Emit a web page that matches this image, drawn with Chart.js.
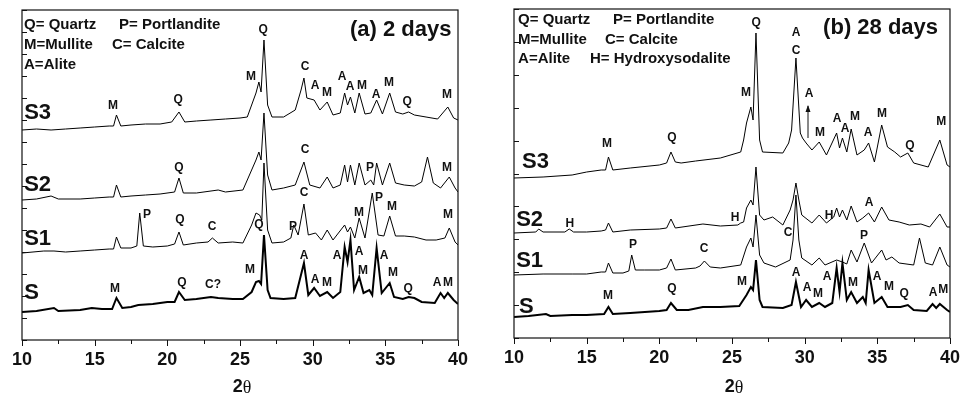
<!DOCTYPE html>
<html>
<head>
<meta charset="utf-8">
<script src="https://cdn.jsdelivr.net/npm/chart.js@4.4.1/dist/chart.umd.min.js"></script>
<style>
  body { margin: 0; background: #fff; }
  #wrap { position: relative; width: 969px; height: 405px; }
  canvas { position: absolute; top: 0; }
  #cA { left: 0; }
  #cB { left: 480px; }
</style>
</head>
<body>
<div id="wrap">
  <canvas id="cA" width="480" height="405"></canvas>
  <canvas id="cB" width="489" height="405"></canvas>
</div>
<script>
// ---- (a) 2 days : 2theta + stacked intensity (a.u.) ----
const a_S_2t  = [10,11,12.2,12.5,14,14.8,15.5,16.2,16.5,16.9,17.5,18,19,20,20.5,20.8,21.2,22,23,23.5,24.5,25.2,25.8,26.1,26.3,26.45,26.65,26.9,27.1,28,28.8,29.4,29.7,30.1,30.5,31,31.4,31.9,32.2,32.4,32.6,32.85,33.2,33.5,33.9,34.1,34.4,34.75,35.3,35.6,36.2,36.6,37,37.5,38.4,38.8,39.05,39.3,39.7,40];
const a_S_i   = [28,29,32,29,30,32,31,31,42,32,33,35,36,38,38,48,40,41,43,42,41,41,48,58,59,56,105,50,42,41,42,77,45,52,44,48,42,48,93,78,100,50,63,47,50,45,92,47,57,43,41,43,42,38,37,47,42,47,40,36];

const a_S1_2t = [10,11.5,12.2,13,14,15,16,16.3,16.5,16.8,17.5,17.9,18.1,18.35,19,20,20.5,20.8,21.1,22,22.8,23.1,23.5,24.5,25.2,25.8,26.1,26.35,26.5,26.65,26.9,27.2,28,28.5,28.7,29.0,29.4,29.7,30.2,30.6,31,31.4,32.2,32.4,32.6,32.9,33.2,33.6,34.1,34.5,34.9,35.3,35.7,36.3,37,37.8,38.5,39.1,39.4,39.8,40];
const a_S1_i  = [87,89,89,88,89,90,91,91,103,92,92,94,127,94,93,94,96,108,95,97,98,102,97,98,97,115,127,125,120,177,110,97,98,102,115,105,136,105,107,100,110,100,115,108,113,102,122,102,147,105,104,124,104,104,103,100,100,102,112,98,95];

const a_S2_2t = [10,11,12,12.5,14,15,16,16.3,16.5,16.8,17.5,18.5,19.5,20.5,20.8,21.1,22,23.5,24,25.2,25.8,26.1,26.3,26.45,26.65,26.9,27.2,28,28.8,29.4,29.8,30.5,31,31.4,31.9,32.2,32.4,32.6,32.9,33.2,33.6,34.0,34.2,34.4,34.8,35.3,35.7,36.3,37,37.5,37.9,38.3,38.8,39.4,39.8,40];
const a_S2_i  = [140,141,144,141,141,142,143,143,155,143,144,145,146,148,162,147,147,150,148,150,170,180,188,180,227,165,150,152,155,178,155,152,163,152,155,175,158,175,155,177,155,160,155,177,155,177,157,155,154,158,183,157,152,163,152,148];

const a_S3_2t = [10,11,12,13,14,15,16,16.3,16.5,16.8,17.5,18.5,19.5,20.3,20.8,21.2,22,23,24,25,25.5,25.8,26.1,26.3,26.45,26.65,26.9,27.2,28,28.8,29.2,29.4,29.6,30.1,30.5,31,31.4,31.9,32.2,32.4,32.6,32.9,33.2,33.6,34,34.4,34.8,35.3,35.7,36.2,36.6,37,37.8,38.6,39.3,39.7,40];
const a_S3_i  = [210,211,210,211,212,213,214,214,225,214,215,216,216,218,228,218,219,220,221,222,223,235,247,258,248,300,235,223,223,230,250,262,242,240,230,238,225,227,247,235,243,227,247,226,227,240,226,247,228,226,228,225,223,221,233,222,220];

// ---- (b) 28 days ----
const b_S_2t  = [10,11,12.2,12.5,14,15,16.2,16.5,16.8,18,20,20.5,20.8,21.2,22,23,24.2,25.5,26.0,26.3,26.45,26.65,26.9,27.1,28.5,29.1,29.4,29.75,30.1,30.5,31,31.4,31.9,32.2,32.4,32.6,32.9,33.2,33.6,34.0,34.2,34.4,34.8,35.3,35.7,36.6,37.1,37.5,38.4,38.8,39.05,39.3,39.8,40];
const b_S_i   = [21,22,24,22,23,23,24,31,24,25,27,28,35,28,28,31,31,32,43,51,48,78,38,31,30,33,56,31,38,31,35,31,35,70,46,75,38,46,35,41,35,68,35,41,31,31,33,28,27,34,30,34,28,26];

const b_S1_2t = [10,12,14,15,16,16.3,16.5,16.8,17.5,17.9,18.1,18.35,19,20,20.5,20.8,21.1,22.5,22.8,23.1,23.5,24.2,25.6,26.0,26.3,26.45,26.65,26.9,27.2,28,29,29.2,29.4,29.6,29.8,30.5,31,31.4,32.2,32.6,32.9,33.2,33.6,34.1,34.6,35.3,35.6,36,36.5,37.5,37.9,38.3,38.8,39.3,39.8,40];
const b_S1_i  = [63,64,64,64,66,66,75,65,65,67,83,68,68,68,70,79,68,70,72,77,71,70,73,91,100,91,123,83,75,71,78,98,143,98,80,73,80,73,78,76,74,88,76,95,75,88,78,81,75,73,100,75,73,91,73,71];

const b_S2_2t = [10,11.5,11.7,12,13.5,13.8,14.1,15,16,16.3,16.5,16.8,18,20,20.5,20.8,21.1,23,24.2,25.4,25.6,25.8,26.0,26.3,26.45,26.65,26.9,27.2,27.8,28.5,29.0,29.2,29.4,29.6,29.8,30.5,31,31.5,32.0,32.2,32.4,32.6,32.9,33.2,33.6,34.0,34.4,34.8,35.3,35.8,36.5,37.2,38,38.6,39.3,39.8,40];
const b_S2_i  = [105,106,109,106,106,109,106,106,107,108,115,106,108,109,110,119,110,114,112,113,115,116,130,138,133,171,123,118,121,113,128,138,155,138,123,115,123,115,121,130,121,128,118,132,116,120,125,116,131,118,116,113,114,111,124,111,111];

const b_S3_2t = [10,12,14,15,16,16.3,16.5,16.8,18,20,20.5,20.8,21.1,21.5,22.5,24.2,25.6,25.8,26.0,26.3,26.45,26.65,26.9,27.1,28.5,28.9,29.1,29.4,29.7,29.85,30.1,30.5,31,31.5,32.2,32.4,32.6,32.9,33.2,33.6,34.1,34.4,34.8,35.3,35.7,36.2,36.6,37.1,37.5,38.5,39.3,39.8,40];
const b_S3_i  = [160,161,163,166,168,168,181,168,170,173,175,186,176,175,177,180,186,198,215,231,218,305,198,186,185,195,208,280,205,200,195,188,196,183,205,190,200,186,209,183,188,195,176,213,191,186,181,185,175,171,198,173,171];

// ---- text: [label, 2theta, intensity] ----
const peaksA = [
  ['M',16.26,234],['Q',20.74,240],['M',25.76,263],['Q',26.59,310],['C',29.48,273],['A',30.17,254],['M',30.99,247],
  ['A',32.02,263],['A',32.57,253],['M',33.4,254],['A',34.36,245],['M',35.26,257],['Q',36.5,238],['M',39.25,245],
  ['Q',20.8,172],['C',29.48,190],['P',33.95,172],['M',39.25,172],
  ['P',18.6,125],['Q',20.87,120],['C',23.08,113],['Q',26.31,115],['P',28.65,113],['C',29.41,147],['M',33.19,127],
  ['P',34.57,142],['M',35.46,133],['M',39.32,125],
  ['M',16.4,51],['Q',21.01,57],['C?',23.15,55],['M',25.69,70],['A',29.41,84],['A',30.17,60],['M',30.99,57],
  ['A',31.68,84],['A',33.19,88],['M',33.47,69],['A',34.91,84],['M',35.53,67],['Q',36.57,51],['A',38.56,57],['M',39.32,57]
];
const peaksB = [
  ['M',16.4,194],['Q',20.87,200],['M',25.97,245],['Q',26.66,315],['A',29.41,305],['C',29.41,287],['A',30.3,244],
  ['M',31.06,205],['A',32.23,219],['A',32.78,209],['M',33.47,221],['A',34.36,205],['M',35.33,224],['Q',37.25,192],['M',39.39,216],
  ['H',13.85,114],['H',25.21,120],['H',31.68,122],['A',34.43,135],
  ['P',18.19,93],['C',23.08,89],['C',28.86,105],['P',34.09,102],
  ['M',16.47,42],['Q',20.87,49],['M',25.69,56],['A',29.41,65],['A',30.17,50],['M',30.92,44],['A',31.54,61],
  ['M',33.33,55],['A',34.98,61],['M',35.81,51],['Q',36.84,44],['A',38.84,45],['M',39.53,48]
];
const namesA = [['S3',10.15,227],['S2',10.15,155],['S1',10.15,101],['S',10.15,47]];
const namesB = [['S3',10.55,176],['S2',10.15,118],['S1',10.15,77],['S',10.35,31]];
const keyA = [['Q= Quartz',10.14,315],['P= Portlandite',16.68,315],['M=Mullite',10.14,295],['C= Calcite',16.19,295],['A=Alite',10.14,275]];
const keyB = [['Q= Quartz',10.28,318],['P= Portlandite',16.81,318],['M=Mullite',10.28,298],['C= Calcite',16.26,298],
              ['A=Alite',10.28,279],['H= Hydroxysodalite',15.23,279]];

const SANS = '"Liberation Sans", Arial, Helvetica, sans-serif';

// dibuja marco, ticks, letras de picos y rotulos
const xrdDecor = {
  id: 'xrdDecor',
  afterDatasetsDraw(chart, args, o) {
    const { ctx, chartArea: a, scales: { x, y } } = chart;
    ctx.save();
    ctx.strokeStyle = '#111';
    ctx.lineWidth = 1.2;
    ctx.strokeRect(a.left, a.top, a.right - a.left, a.bottom - a.top);

    ctx.lineWidth = 1;
    ctx.beginPath();
    y.ticks.forEach(t => {
      const py = Math.round(y.getPixelForValue(t.value)) + 0.5;
      ctx.moveTo(a.left, py); ctx.lineTo(a.left + 5, py);
    });
    x.ticks.forEach(t => {
      const px = Math.round(x.getPixelForValue(t.value)) + 0.5;
      const len = t.value % 5 === 0 ? 6 : 4;
      ctx.moveTo(px, a.bottom); ctx.lineTo(px, a.bottom + len);
    });
    ctx.stroke();

    ctx.fillStyle = '#111';
    ctx.textBaseline = 'middle';
    const put = (list, font, align) => {
      ctx.font = font; ctx.textAlign = align;
      list.forEach(([s, tx, v]) => ctx.fillText(s, x.getPixelForValue(tx), y.getPixelForValue(v)));
    };
    put(o.peaks, 'bold 12px ' + SANS, 'center');
    put(o.names, 'bold 22px ' + SANS, 'left');
    put(o.key, 'bold 15px ' + SANS, 'left');
    put([o.title], 'bold 22px ' + SANS, 'left');

    if (o.arrow) {
      const [ax, v0, v1] = o.arrow;
      const px = x.getPixelForValue(ax), p0 = y.getPixelForValue(v0), p1 = y.getPixelForValue(v1);
      ctx.beginPath(); ctx.moveTo(px, p0); ctx.lineTo(px, p1); ctx.stroke();
      ctx.beginPath(); ctx.moveTo(px, p1 - 1); ctx.lineTo(px - 2.5, p1 + 6); ctx.lineTo(px + 2.5, p1 + 6); ctx.closePath(); ctx.fill();
    }

    // titulo del eje: "2" en negrita + theta normal
    const cx = (a.left + a.right) / 2 + 2, ty = 387;
    ctx.textAlign = 'left';
    ctx.font = 'bold 18px ' + SANS;
    const w2 = ctx.measureText('2').width;
    ctx.font = '18px "Liberation Serif", "Times New Roman", serif';
    const wt = ctx.measureText('\u03b8').width;
    ctx.font = 'bold 18px ' + SANS;
    ctx.fillText('2', cx - (w2 + wt) / 2, ty);
    ctx.font = '18px "Liberation Serif", "Times New Roman", serif';
    ctx.fillText('\u03b8', cx - (w2 + wt) / 2 + w2, ty + 1);
    ctx.restore();
  }
};

function serie(xs, ys, w) {
  return {
    data: xs.map((v, i) => ({ x: v, y: ys[i] })),
    borderColor: '#000', borderWidth: w, pointRadius: 0, tension: 0, fill: false
  };
}

function panel(id, sets, yMax, yStep, pad, yW, xH, notes) {
  new Chart(document.getElementById(id), {
    type: 'line',
    data: { datasets: sets },
    options: {
      responsive: false,
      animation: false,
      layout: { padding: pad },
      plugins: { legend: { display: false }, tooltip: { enabled: false }, xrdDecor: notes },
      scales: {
        x: {
          type: 'linear', min: 10, max: 40,
          afterFit: s => { s.height = xH; },
          border: { display: false },
          grid: { display: false, drawTicks: false },
          ticks: {
            stepSize: 2.5, autoSkip: false, maxRotation: 0, padding: 9, color: '#111',
            font: { family: SANS, size: 18, weight: 'bold' },
            callback: v => (v % 5 === 0 ? v : '')
          }
        },
        y: {
          min: 0, max: yMax,
          afterFit: s => { s.width = yW; },
          border: { display: false },
          grid: { display: false, drawTicks: false },
          ticks: { stepSize: yStep, display: false }
        }
      }
    },
    plugins: [xrdDecor]
  });
}

panel('cA',
  [serie(a_S_2t, a_S_i, 2), serie(a_S1_2t, a_S1_i, 1), serie(a_S2_2t, a_S2_i, 1), serie(a_S3_2t, a_S3_i, 1)],
  330, 22, { left: 0, right: 22, top: 10, bottom: 0 }, 22, 65,
  { peaks: peaksA, names: namesA, key: keyA, title: ['(a) 2 days', 32.57, 310] });

panel('cB',
  [serie(b_S_2t, b_S_i, 2), serie(b_S1_2t, b_S1_i, 1), serie(b_S2_2t, b_S2_i, 1), serie(b_S3_2t, b_S3_i, 1)],
  329, 32.9, { left: 0, right: 19, top: 9, bottom: 0 }, 34, 67,
  { peaks: peaksB, names: namesB, key: keyB, title: ['(b) 28 days', 31.27, 310], arrow: [30.23, 200, 232] });
</script>
</body>
</html>
